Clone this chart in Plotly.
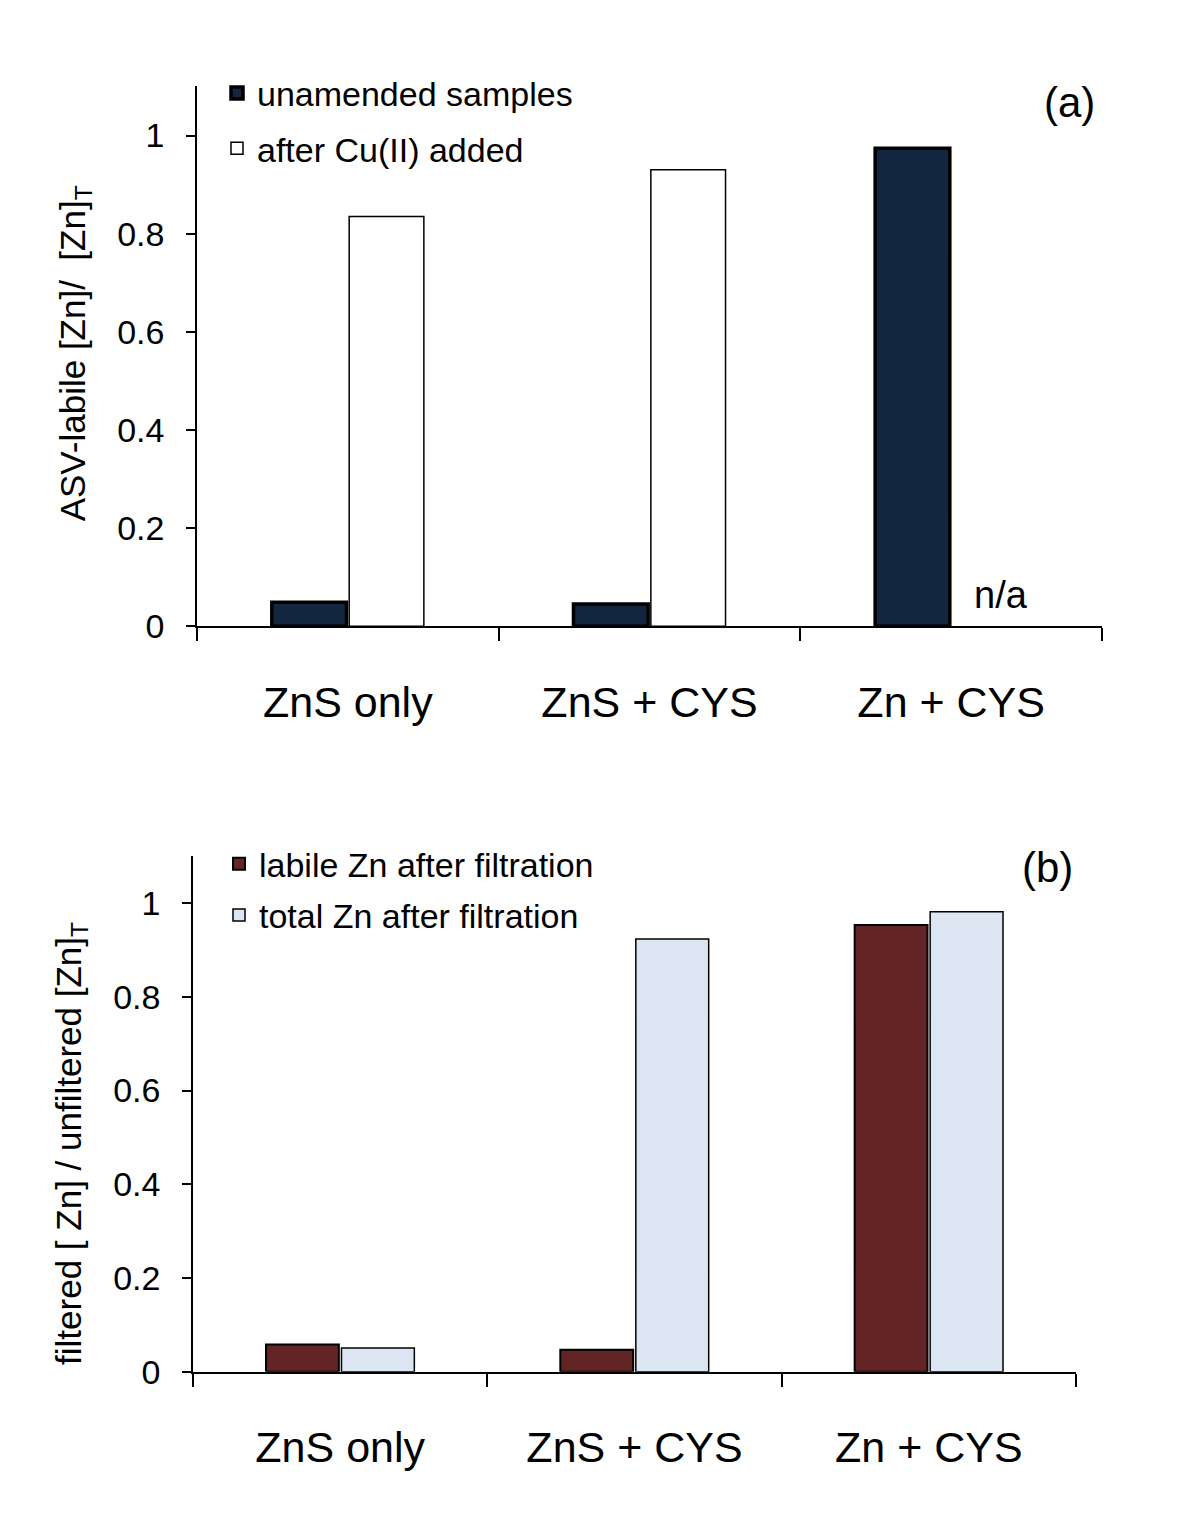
import plotly.graph_objects as go

categories = ["ZnS only", "ZnS + CYS", "Zn + CYS"]

# Panel (a)
unamended = [0.049, 0.045, 0.974]
after_cu = [0.835, 0.930, None]   # n/a for Zn + CYS

# Panel (b)
labile_filt = [0.058, 0.047, 0.953]
total_filt = [0.051, 0.923, 0.981]

yticks = [0, 0.2, 0.4, 0.6, 0.8, 1]

W, H = 1200, 1520
FONT = "Liberation Sans, Arial, sans-serif"

# convert target screen pixels to paper fractions (compensating page offset)
def px_x(v):
    return (v - 7) / W

def px_y(v):
    return 1 - ((v - 8.5) / 0.988) / H

fig = go.Figure()

fig.add_trace(go.Bar(x=categories, y=unamended, name="unamended samples",
                     marker=dict(color="#13263F", line=dict(color="black", width=3.5)),
                     xaxis="x", yaxis="y", legend="legend", legendgroup="a1"))
fig.add_trace(go.Bar(x=categories, y=after_cu, name="after Cu(II) added",
                     marker=dict(color="white", line=dict(color="black", width=1.5)),
                     xaxis="x", yaxis="y", legend="legend", legendgroup="a2"))
fig.add_trace(go.Bar(x=categories, y=labile_filt, name="labile Zn after filtration",
                     marker=dict(color="#622424", line=dict(color="black", width=2)),
                     xaxis="x2", yaxis="y2", legend="legend2", legendgroup="b1"))
fig.add_trace(go.Bar(x=categories, y=total_filt, name="total Zn after filtration",
                     marker=dict(color="#DCE6F2", line=dict(color="black", width=1.5)),
                     xaxis="x2", yaxis="y2", legend="legend2", legendgroup="b2"))

xcommon = dict(type="category", tickson="boundaries", ticks="outside", ticklen=13,
               tickwidth=1.5, tickcolor="black", showline=True, linecolor="black",
               linewidth=1.5, showgrid=False, zeroline=False,
               tickfont=dict(family=FONT, size=43, color="black"),
               ticklabelstandoff=37)
ycommon = dict(range=[0, 1.1], tickvals=yticks, ticktext=["0", "0.2", "0.4", "0.6", "0.8", "1"],
               ticks="outside", ticklen=9, tickwidth=1.5, tickcolor="black",
               showline=True, linecolor="black", linewidth=1.5, showgrid=False,
               zeroline=False, tickfont=dict(family=FONT, size=34, color="black"),
               ticklabelstandoff=15)

fig.update_layout(
    width=W, height=H,
    margin=dict(l=0, r=0, t=0, b=0),
    paper_bgcolor="white", plot_bgcolor="white",
    barmode="group", bargap=0.487, bargroupgap=0.035,
    font=dict(family=FONT, color="black"),
    xaxis=dict(domain=[px_x(196), px_x(1101)], anchor="y", **xcommon),
    yaxis=dict(domain=[px_y(627), px_y(87)], anchor="x", **ycommon),
    xaxis2=dict(domain=[px_x(192), px_x(1075)], anchor="y2", **xcommon),
    yaxis2=dict(domain=[px_y(1373), px_y(857)], anchor="x2", **ycommon),
    legend=dict(x=px_x(216), y=px_y(65), xanchor="left", yanchor="top",
                bgcolor="rgba(0,0,0,0)", font=dict(family=FONT, size=34),
                tracegroupgap=8, itemwidth=30),
    legend2=dict(x=px_x(218), y=px_y(836), xanchor="left", yanchor="top",
                 bgcolor="rgba(0,0,0,0)", font=dict(family=FONT, size=34),
                 tracegroupgap=4, itemwidth=30),
    showlegend=True,
)

annotations = [
    dict(text="(a)", x=px_x(1068), y=px_y(103), xref="paper", yref="paper",
         xanchor="center", yanchor="middle",
         showarrow=False, font=dict(family=FONT, size=42, color="black")),
    dict(text="(b)", x=px_x(1046), y=px_y(868), xref="paper", yref="paper",
         xanchor="center", yanchor="middle",
         showarrow=False, font=dict(family=FONT, size=42, color="black")),
    dict(text="n/a", x=categories[2], y=0, xref="x", yref="y", xshift=50, yshift=31,
         xanchor="center", yanchor="middle",
         showarrow=False, font=dict(family=FONT, size=38, color="black")),
    dict(text="ASV-labile [Zn]/  [Zn]<sub>T</sub>", x=px_x(74), y=px_y(354),
         xref="paper", yref="paper", textangle=-90, showarrow=False,
         xanchor="center", yanchor="middle",
         font=dict(family=FONT, size=35, color="black")),
    dict(text="filtered [ Zn] / unfiltered [Zn]<sub>T</sub>", x=px_x(70), y=px_y(1145),
         xref="paper", yref="paper", textangle=-90, showarrow=False,
         xanchor="center", yanchor="middle",
         font=dict(family=FONT, size=35, color="black")),
]
fig.update_layout(annotations=annotations)

fig.write_html("out.html")
